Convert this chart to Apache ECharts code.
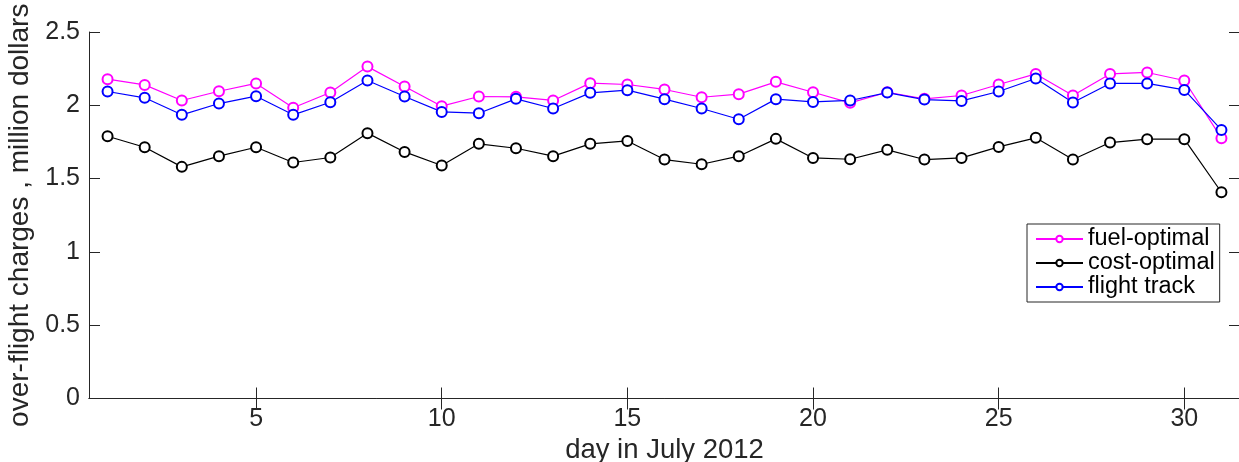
<!DOCTYPE html>
<html>
<head>
<meta charset="utf-8">
<script src="https://cdn.jsdelivr.net/npm/echarts@6/dist/echarts.min.js"></script>
<style>
html,body{margin:0;padding:0;background:#fff;}
#chart{width:1239px;height:462px;}
</style>
</head>
<body>
<div id="chart"></div>
<script>
const days = [1,2,3,4,5,6,7,8,9,10,11,12,13,14,15,16,17,18,19,20,21,22,23,24,25,26,27,28,29,30,31];
const fuelOptimal = [2.178,2.139,2.033,2.096,2.149,1.983,2.087,2.264,2.128,1.994,2.060,2.058,2.033,2.151,2.142,2.108,2.055,2.076,2.160,2.089,2.017,2.089,2.044,2.067,2.142,2.214,2.067,2.214,2.224,2.169,1.776];
const costOptimal = [1.789,1.714,1.580,1.653,1.714,1.610,1.644,1.810,1.682,1.589,1.737,1.707,1.653,1.737,1.757,1.630,1.598,1.653,1.771,1.641,1.632,1.696,1.630,1.641,1.716,1.778,1.630,1.746,1.769,1.769,1.407];
const flightTrack = [2.094,2.051,1.935,2.012,2.062,1.935,2.021,2.169,2.060,1.955,1.946,2.044,1.978,2.085,2.103,2.042,1.978,1.905,2.042,2.023,2.033,2.087,2.039,2.030,2.094,2.183,2.019,2.149,2.149,2.105,1.832];
const xTicks = [5,10,15,20,25,30];
const yTicks = [0,0.5,1,1.5,2,2.5];

const FONT = 'Liberation Sans';
const TXT = '#262626';
function pairs(arr){ return days.map((d,i)=>[d,arr[i]]); }
function mk(name, data, color){
  return {
    name, type:'line', data: pairs(data),
    symbol:'emptyCircle', symbolSize:10, showSymbol:true,
    lineStyle:{color, width:1.2},
    itemStyle:{color, borderColor:color, borderWidth:1},
    emphasis:{disabled:true}, animation:false
  };
}
const chart = echarts.init(document.getElementById('chart'), null, {renderer:'canvas'});
const axisLine = {show:true, lineStyle:{color:TXT, width:1}};
chart.setOption({
  animation:false,
  backgroundColor:'#fff',
  grid:{left:89, top:32, width:1151, height:366.5, containLabel:false, outerBoundsMode:'none'},
  xAxis:[{
    type:'value', min:0.5, max:31.5,
    name:'day in July 2012', nameLocation:'middle', nameGap:36,
    nameTextStyle:{fontFamily:FONT, fontSize:27.5, color:TXT},
    axisLine, splitLine:{show:false},
    axisTick:{show:true, inside:true, length:11, customValues:xTicks, lineStyle:{color:TXT}},
    axisLabel:{customValues:xTicks, fontFamily:FONT, fontSize:25, color:TXT, margin:8}
  },{
    type:'value', min:0.5, max:31.5, position:'top',
    axisLine, splitLine:{show:false},
    axisTick:{show:true, inside:true, length:11, customValues:xTicks, lineStyle:{color:TXT}},
    axisLabel:{show:false}
  }],
  yAxis:[{
    type:'value', min:0, max:2.5, interval:0.5,
    name:'over-flight charges , million dollars', nameLocation:'middle', nameGap:53,
    nameTextStyle:{fontFamily:FONT, fontSize:28, color:TXT},
    axisLine, splitLine:{show:false},
    axisTick:{show:true, inside:true, length:11, customValues:yTicks, lineStyle:{color:TXT}},
    axisLabel:{customValues:yTicks, fontFamily:FONT, fontSize:25, color:TXT, margin:9}
  },{
    type:'value', min:0, max:2.5, interval:0.5, position:'right',
    axisLine, splitLine:{show:false},
    axisTick:{show:true, inside:true, length:11, lineStyle:{color:TXT}},
    axisLabel:{show:false}
  }],
  legend:{
    orient:'vertical', left:1027, top:224,
    backgroundColor:'#fff', borderColor:TXT, borderWidth:1, borderRadius:0,
    padding:[3,5,3,8], itemGap:0, itemWidth:47, itemHeight:8,
    textStyle:{fontFamily:FONT, fontSize:23.5, color:'#000', lineHeight:23.5},
    data:['fuel-optimal','cost-optimal','flight track']
  },
  series:[
    mk('fuel-optimal', fuelOptimal, '#ff00ff'),
    mk('cost-optimal', costOptimal, '#000000'),
    mk('flight track', flightTrack, '#0000ff')
  ]
});
</script>
</body>
</html>
